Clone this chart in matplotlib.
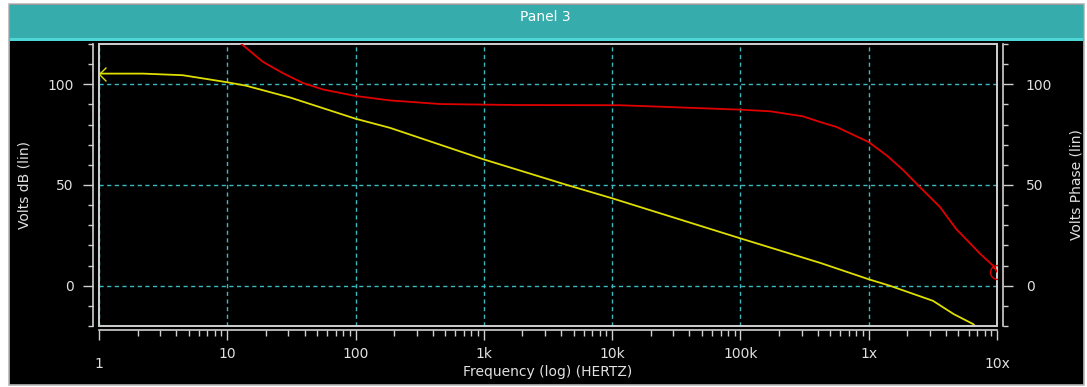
import matplotlib
matplotlib.use("Agg")
import matplotlib.pyplot as plt
from matplotlib.patches import Rectangle
from matplotlib.path import Path
from matplotlib.ticker import FixedLocator, LogLocator, MultipleLocator, NullFormatter
from matplotlib.transforms import ScaledTranslation

# magnitude trace (left axis, dB)
freq_db = [1, 2.2, 4.5, 10, 14, 31, 100, 185, 1e3, 4.4e3, 1e4, 2e4, 2.8e4,
           1e5, 4.2e5, 1e6, 1.46e6, 3.17e6, 4.6e6, 6.5e6, 7e6]
volts_db = [105.3, 105.3, 104.5, 101.0, 99.3, 93.4, 82.9, 78.4, 62.7, 50.1, 43.4,
            37.4, 34.5, 23.5, 11.3, 3.2, 0.0, -7.5, -14.1, -19.0, -21.0]

# phase trace (right axis)
freq_ph = [12.9, 19, 27, 39, 56, 100, 185, 455, 1.8e3, 1.15e4, 2.8e4, 1e5, 1.7e5,
           3.07e5, 4.17e5, 5.62e5, 1e6, 1.38e6, 1.87e6, 2.36e6, 3.6e6, 4.8e6,
           7.4e6, 9.3e6, 1e7]
volts_phase = [120.0, 111.1, 105.6, 100.6, 97.4, 94.2, 92.0, 90.2, 89.7, 89.6, 88.7,
               87.4, 86.6, 84.1, 81.3, 78.8, 71.3, 64.7, 57.2, 50.6, 39.0, 28.2,
               15.8, 10.0, 7.0]

x_ticks = [1, 10, 100, 1e3, 1e4, 1e5, 1e6, 1e7]
x_tick_labels = ["1", "10", "100", "1k", "10k", "100k", "1x", "10x"]
y_ticks = [0, 50, 100]

FG = "#e0e0e0"
GRID = "#3cb8be"
W, H = 1087, 387

plt.rcParams["font.family"] = "DejaVu Sans"
fig = plt.figure(figsize=(W / 100, H / 100), dpi=100, facecolor="white")


def fx(px):
    return px / W


def fy(py):
    return 1 - py / H


# window background and panel title bar (kept behind the axes)
fig.patches.append(Rectangle((fx(9), fy(385)), fx(1075), 381 / H, transform=fig.transFigure,
                             facecolor="black", edgecolor="#b8b8b8", lw=1.2, zorder=-3))
fig.patches.append(Rectangle((fx(10), fy(40)), fx(1073), 35 / H, transform=fig.transFigure,
                             facecolor="#36acac", edgecolor="none", zorder=-2))
fig.patches.append(Rectangle((fx(10), fy(41)), fx(1073), 3 / H, transform=fig.transFigure,
                             facecolor="#4fd6d6", edgecolor="none", zorder=-2))
fig.text(fx(545), fy(17), "Panel 3", color="white", fontsize=10, ha="center", va="center")

ax = fig.add_axes([fx(99), fy(326), fx(898), 282 / H])
ax.set_facecolor("black")
ax.set_xscale("log")
ax.set_xlim(1, 1e7)
ax.set_ylim(-20, 120)

for side in ["top", "right"]:
    ax.spines[side].set_visible(False)
ax.spines["left"].set_position(("outward", 4))
ax.spines["bottom"].set_position(("outward", 3))
for side in ["left", "bottom"]:
    ax.spines[side].set_color("#d0d0d0")
    ax.spines[side].set_linewidth(1.2)
ax.add_patch(Rectangle((0, 0), 1, 1, transform=ax.transAxes, fill=False,
                       edgecolor="#d0d0d0", lw=1.4, clip_on=False, zorder=5))

ax.xaxis.set_major_locator(FixedLocator(x_ticks))
ax.set_xticklabels(x_tick_labels)
ax.xaxis.set_minor_locator(LogLocator(base=10, subs=range(2, 10), numticks=20))
ax.xaxis.set_minor_formatter(NullFormatter())
ax.yaxis.set_major_locator(FixedLocator(y_ticks))
ax.yaxis.set_minor_locator(MultipleLocator(10))
ax.tick_params(axis="both", which="both", colors="#d0d0d0", labelcolor=FG, labelsize=10,
               direction="out", width=1)
ax.tick_params(axis="x", which="major", length=7.2, pad=5)
ax.tick_params(axis="x", which="minor", length=4.3)
ax.tick_params(axis="y", which="major", length=7.2, pad=7)
ax.tick_params(axis="y", which="minor", length=3.6)

# first and last frequency labels sit lower, as in the original tool
for lbl in [ax.get_xticklabels()[0], ax.get_xticklabels()[-1]]:
    lbl.set_transform(lbl.get_transform() + ScaledTranslation(0, -10 / 100, fig.dpi_scale_trans))

ax.grid(True, which="major", color=GRID, linestyle=(0, (3, 2.5)), linewidth=1.0)

arrow = Path([(1, 1), (0, 0), (1, -1)], [Path.MOVETO, Path.LINETO, Path.LINETO])
ax.plot(freq_db, volts_db, color="#dede00", linewidth=1.3, zorder=3)
ax.plot(freq_db[:1], volts_db[:1], marker=arrow, markersize=10, color="#dede00",
        markerfacecolor="none", markeredgewidth=1.0, linestyle="none", zorder=4)

ax.set_xlabel("Frequency (log) (HERTZ)", color=FG, fontsize=10)
ax.xaxis.set_label_coords(0.5, -0.138)
ax.set_ylabel("Volts dB (lin)", color=FG, fontsize=10, va="center")
ax.yaxis.set_label_coords(-0.0825, 0.5)

ax2 = ax.twinx()
ax2.set_ylim(-20, 120)
for side in ["top", "left", "bottom"]:
    ax2.spines[side].set_visible(False)
ax2.spines["right"].set_position(("outward", 4.5))
ax2.spines["right"].set_color("#d0d0d0")
ax2.spines["right"].set_linewidth(1.2)
ax2.yaxis.set_major_locator(FixedLocator(y_ticks))
ax2.yaxis.set_minor_locator(MultipleLocator(10))
ax2.tick_params(axis="y", which="both", colors="#d0d0d0", labelcolor=FG, labelsize=10,
                direction="out", width=1)
ax2.tick_params(axis="y", which="major", length=7.2, pad=9)
ax2.tick_params(axis="y", which="minor", length=3.6)

ax2.plot(freq_ph, volts_phase, color="#e00000", linewidth=1.3, zorder=3)
ax2.plot(freq_ph[-1:], volts_phase[-1:], marker="o", markersize=10, color="#e00000",
         markerfacecolor="none", markeredgewidth=1.0, linestyle="none", zorder=4)

ax2.set_ylabel("Volts Phase (lin)", color=FG, fontsize=10, va="center", rotation=90)
ax2.yaxis.set_label_coords(1.089, 0.5)

fig.savefig("out.png", dpi=100, facecolor=fig.get_facecolor())
